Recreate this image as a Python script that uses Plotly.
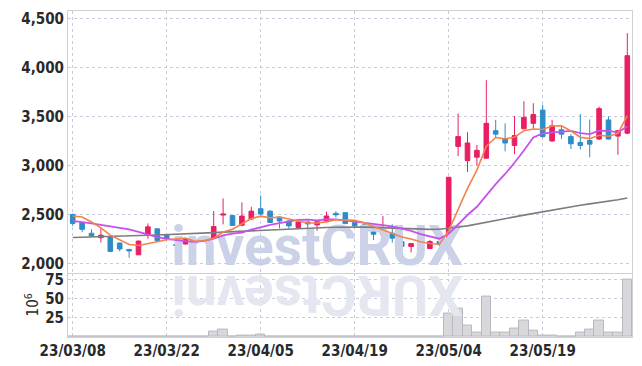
import plotly.graph_objects as go

dates = ["23/03/08","23/03/09","23/03/10","23/03/13","23/03/14","23/03/15","23/03/16","23/03/17","23/03/20","23/03/21",
         "23/03/22","23/03/23","23/03/24","23/03/27","23/03/28","23/03/29","23/03/30","23/03/31","23/04/03","23/04/04",
         "23/04/05","23/04/06","23/04/07","23/04/10","23/04/11","23/04/12","23/04/13","23/04/14","23/04/17","23/04/18",
         "23/04/19","23/04/20","23/04/21","23/04/24","23/04/25","23/04/26","23/04/27","23/04/28","23/05/02","23/05/03",
         "23/05/04","23/05/08","23/05/09","23/05/10","23/05/11","23/05/12","23/05/15","23/05/16","23/05/17","23/05/18",
         "23/05/19","23/05/22","23/05/23","23/05/24","23/05/25","23/05/26","23/05/30","23/05/31","23/06/01","23/06/02"]

open_ = [2500, 2420, 2310, 2265, 2275, 2210, 2145, 2090, 2300, 2355,
         2290, 2195, 2200, 2245, 2235, 2260, 2495, 2490, 2392, 2455,
         2560, 2535, 2475, 2435, 2368, 2425, 2395, 2435, 2512, 2520,
         2418, 2395, 2325, 2295, 2310, 2225, 2175, 2215, 2155, 2225,
         2205, 3195, 3050, 3085, 3075, 3355, 3270, 3205, 3375, 3430,
         3565, 3250, 3365, 3295, 3235, 3255, 3270, 3465, 3300, 3330]
high = [2510, 2425, 2350, 2360, 2280, 2215, 2150, 2235, 2410, 2360,
        2295, 2220, 2260, 2250, 2275, 2536, 2665, 2495, 2625, 2580,
        2695, 2545, 2480, 2440, 2430, 2430, 2430, 2530, 2535, 2525,
        2420, 2400, 2330, 2485, 2400, 2230, 2210, 2220, 2240, 2250,
        2885, 3530, 3340, 3210, 3870, 3465, 3430, 3505, 3655, 3635,
        3620, 3465, 3400, 3320, 3525, 3470, 3600, 3500, 3360, 4350]
low = [2385, 2320, 2275, 2215, 2120, 2125, 2060, 2088, 2255, 2225,
       2245, 2160, 2195, 2165, 2225, 2255, 2400, 2385, 2380, 2450,
       2500, 2415, 2360, 2350, 2360, 2335, 2335, 2430, 2470, 2405,
       2370, 2305, 2240, 2250, 2215, 2170, 2115, 2160, 2150, 2180,
       2195, 3095, 2935, 3000, 3070, 3280, 3145, 3115, 3370, 3380,
       3280, 3245, 3270, 3168, 3165, 3085, 3260, 3265, 3110, 3320]
close = [2410, 2350, 2280, 2290, 2125, 2150, 2130, 2230, 2375, 2235,
         2250, 2185, 2255, 2210, 2265, 2378, 2505, 2390, 2485, 2535,
         2505, 2420, 2435, 2385, 2425, 2405, 2428, 2486, 2498, 2408,
         2385, 2307, 2300, 2317, 2260, 2175, 2205, 2165, 2225, 2205,
         2880, 3295, 3230, 3155, 3430, 3320, 3230, 3305, 3490, 3520,
         3295, 3405, 3320, 3222, 3205, 3218, 3580, 3270, 3355, 4120]

ma_short = [2485, 2475, 2425, 2365, 2291, 2239, 2195, 2185, 2202, 2224,
            2244, 2255, 2260, 2227, 2233, 2259, 2323, 2350, 2405, 2459,
            2484, 2467, 2476, 2456, 2434, 2414, 2416, 2426, 2448, 2445,
            2441, 2417, 2380, 2343, 2314, 2272, 2251, 2224, 2206, 2195,
            2336, 2554, 2767, 2953, 3198, 3286, 3273, 3288, 3355, 3373,
            3368, 3403, 3406, 3352, 3289, 3274, 3309, 3299, 3326, 3509]
ma_mid = [2435, 2425, 2410, 2395, 2380, 2364, 2350, 2325, 2295, 2270,
          2252, 2238, 2230, 2222, 2232, 2254, 2289, 2305, 2316, 2346,
          2371, 2395, 2413, 2430, 2446, 2449, 2441, 2451, 2452, 2440,
          2428, 2416, 2403, 2396, 2379, 2356, 2334, 2302, 2275, 2254,
          2304, 2403, 2496, 2580, 2697, 2811, 2914, 3028, 3154, 3286,
          3327, 3338, 3347, 3354, 3331, 3321, 3356, 3353, 3339, 3399]
ma_long = [2266, 2268, 2271, 2274, 2277, 2280, 2283, 2286, 2289, 2292,
           2295, 2299, 2302, 2306, 2311, 2316, 2321, 2326, 2331, 2336,
           2341, 2345, 2350, 2354, 2358, 2362, 2366, 2369, 2371, 2373,
           2374, 2373, 2370, 2366, 2362, 2358, 2354, 2351, 2349, 2350,
           2359, 2373, 2385, 2402, 2421, 2439, 2458, 2477, 2495, 2513,
           2531, 2548, 2566, 2584, 2596, 2609, 2621, 2634, 2651, 2669]

volume = [1, 0, 0, 0, 0, 0, 0, 0, 1, 1,
          0, 0, 0, 0, 0, 7.3, 9.9, 1, 2.2, 1.3,
          3.4, 0, 0, 0, 0, 0, 0, 1, 0, 1,
          0, 0, 0, 1, 1, 0, 0, 0, 0, 0,
          30.2, 36.6, 15.1, 5.2, 52.6, 5.2, 5.2, 10.8, 21.6, 8.6,
          2.2, 2.2, 1, 1, 5.2, 9.5, 21.6, 5.2, 5.2, 75.4]

price_ticks = [2000, 2500, 3000, 3500, 4000, 4500]
volume_ticks = [25, 50, 75]
date_ticks = dates[::10]

watermark = "investCRUX"

UP = "#E91E63"
DOWN = "#2C8DC8"
GRID = "#c9cbe0"
LINE = "#cfcfd4"
TXT = "#2a2a2a"
FONT = "Liberation Sans Narrow, DejaVu Sans Condensed, sans-serif"

fig = go.Figure()

# watermark beneath the candles (first trace = bottom layer)
fig.add_trace(go.Scatter(
    x=[dates[26]], y=[2125], mode="text", text=[watermark],
    textposition="middle center",
    textfont=dict(family="Roboto, sans-serif", size=55, color="#cbd2e7", weight="bold"),
    xaxis="x2", yaxis="y2", hoverinfo="skip", showlegend=False,
))

fig.add_trace(go.Candlestick(
    x=dates, open=open_, high=high, low=low, close=close,
    increasing=dict(line=dict(color=UP, width=1), fillcolor=UP),
    decreasing=dict(line=dict(color=DOWN, width=1), fillcolor=DOWN),
    xaxis="x2", yaxis="y2", showlegend=False, hoverinfo="skip",
))

fig.add_trace(go.Scatter(x=dates, y=ma_long, mode="lines",
                         line=dict(color="#7d7d7d", width=1.6),
                         xaxis="x2", yaxis="y2", showlegend=False, hoverinfo="skip"))
fig.add_trace(go.Scatter(x=dates, y=ma_mid, mode="lines",
                         line=dict(color="#c850ec", width=1.8),
                         xaxis="x2", yaxis="y2", showlegend=False, hoverinfo="skip"))
fig.add_trace(go.Scatter(x=dates, y=ma_short, mode="lines",
                         line=dict(color="#f2834a", width=1.6),
                         xaxis="x2", yaxis="y2", showlegend=False, hoverinfo="skip"))

fig.add_trace(go.Bar(
    x=dates, y=volume,
    marker=dict(color="#d8d8dc", line=dict(color="#b8b8c0", width=1)),
    xaxis="x", yaxis="y", showlegend=False, hoverinfo="skip",
))

split = 0.1976
tickfont = dict(family=FONT, size=15, color=TXT, weight="bold")
common_x = dict(type="category", categoryorder="array", categoryarray=dates,
                range=[-0.5, 59.5], tickmode="array", tickvals=date_ticks,
                showgrid=True, gridcolor=GRID, griddash="dot", gridwidth=1,
                showline=True, linecolor=LINE, linewidth=1, ticks="",
                rangeslider=dict(visible=False))

# the page body has an 8px margin, so the figure is sized to sit inside the window
fig.update_layout(
    width=634, height=358,
    margin=dict(l=60, r=10, t=1, b=29),
    paper_bgcolor="white", plot_bgcolor="white",
    bargap=0,
    showlegend=False,
    xaxis=dict(domain=[0, 1], anchor="y", ticktext=date_ticks, tickfont=tickfont, **common_x),
    xaxis2=dict(domain=[0, 1], anchor="y2", matches="x", showticklabels=False, mirror=True, **common_x),
    yaxis=dict(
        domain=[0, split], anchor="x", range=[0, 84],
        tickmode="array", tickvals=volume_ticks,
        showgrid=True, gridcolor=GRID, griddash="dot", zeroline=False,
        showline=True, linecolor=LINE, mirror=True, ticks="",
        tickfont=tickfont,
        title=dict(text="10<sup>6</sup>", font=dict(family=FONT, size=15, color=TXT), standoff=2),
    ),
    yaxis2=dict(
        domain=[split, 1], anchor="x2", range=[1909, 4575],
        tickmode="array", tickvals=price_ticks, tickformat=",",
        showgrid=True, gridcolor=GRID, griddash="dot", zeroline=False,
        showline=True, linecolor=LINE, mirror=True, ticks="",
        tickfont=tickfont,
    ),
)

# reflected watermark in the volume panel
fig.add_annotation(
    text=watermark[::-1], textangle=180, showarrow=False,
    xref="x", yref="paper", x=dates[26], y=0.131,
    xanchor="center", yanchor="middle",
    font=dict(family="Roboto, sans-serif", size=55, color="#e4e7f0", weight="bold"),
)

fig.write_html("out.html")
